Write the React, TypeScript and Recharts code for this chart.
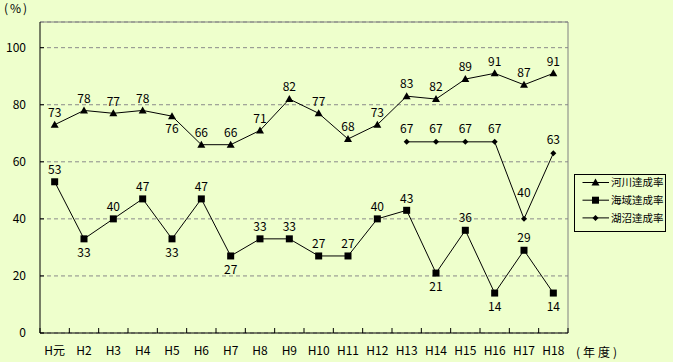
import { LineChart, Line, XAxis, YAxis, CartesianGrid, ReferenceLine, LabelList, Legend } from 'recharts';

const years = ['H元', 'H2', 'H3', 'H4', 'H5', 'H6', 'H7', 'H8', 'H9', 'H10', 'H11', 'H12', 'H13', 'H14', 'H15', 'H16', 'H17', 'H18'];
const river = [73, 78, 77, 78, 76, 66, 66, 71, 82, 77, 68, 73, 83, 82, 89, 91, 87, 91];
const sea = [53, 33, 40, 47, 33, 47, 27, 33, 33, 27, 27, 40, 43, 21, 36, 14, 29, 14];
const lake = [null, null, null, null, null, null, null, null, null, null, null, null, 67, 67, 67, 67, 40, 63];
const yTicks = [0, 20, 40, 60, 80, 100];
const yMax = 109;

// where each value label sits: u = above, d = below, U = well above
const riverPlace = 'uuuuduuuuuuuuuuuuu';
const seaPlace = 'uduududuuuuuududud';
const lakePlace = 'uuuuuuuuuuuuuuuuUu';

const series = [
  { key: 'river', name: '河川達成率', shape: 'triangle' },
  { key: 'sea', name: '海域達成率', shape: 'square' },
  { key: 'lake', name: '湖沼達成率', shape: 'diamond' },
];

const data = years.map((year, i) => ({ year, river: river[i], sea: sea[i], lake: lake[i] }));

const FONT = "'Noto Sans CJK JP', 'Noto Sans', sans-serif";

function marker(shape: string, cx: number, cy: number, key?: string | number) {
  if (shape === 'triangle') {
    return <path key={key} d={`M${cx},${cy - 4}L${cx + 4},${cy + 3}L${cx - 4},${cy + 3}Z`} fill="#000" />;
  }
  if (shape === 'square') {
    return <rect key={key} x={cx - 3.5} y={cy - 3.5} width={7} height={7} fill="#000" />;
  }
  return <path key={key} d={`M${cx},${cy - 3}L${cx + 3},${cy}L${cx},${cy + 3}L${cx - 3},${cy}Z`} fill="#000" />;
}

const makeDot = (shape: string) => (props: any) => {
  const { cx, cy, value, index } = props;
  if (value == null || cx == null || cy == null) return <g key={`e${index}`} />;
  return marker(shape, cx, cy, `d${index}`);
};

const makeLabel = (place: string, up: number, down: number) => (props: any) => {
  const { x, y, value, index } = props;
  if (value == null) return null;
  const p = place[index];
  const off = p === 'd' ? down : p === 'U' ? -26 : -up;
  return (
    <text key={`l${index}`} x={x} y={y + off} dy="0.35em" textAnchor="middle" fontSize={12} fill="#000" fontFamily={FONT}>
      {value}
    </text>
  );
};

function LegendBox() {
  return (
    <svg width={92} height={58} style={{ display: 'block' }}>
      <rect x={0.5} y={0.5} width={91} height={57} fill="none" stroke="#000" />
      {series.map((s, i) => {
        const cy = 8.5 + i * 17.7;
        return (
          <g key={s.key}>
            <line x1={8.5} x2={35} y1={cy} y2={cy} stroke="#000" />
            {marker(s.shape, 21.5, cy)}
            <text x={37} y={cy} dy="0.36em" fontSize={10.5} fill="#000" fontFamily={FONT}>
              {s.name}
            </text>
          </g>
        );
      })}
    </svg>
  );
}

export default function App() {
  return (
    <div style={{ position: 'relative', width: 673, height: 362, background: '#EEFFCC', fontFamily: FONT }}>
      <style>{'body{margin:0}'}</style>
      <div style={{ position: 'absolute', left: 4, top: 0, fontSize: 12, letterSpacing: 2, lineHeight: '16px' }}>(%)</div>
      <div style={{ position: 'absolute', left: 576, top: 344, fontSize: 12, letterSpacing: 3, lineHeight: '16px' }}>(年度)</div>
      <LineChart width={673} height={362} data={data} margin={{ top: 22, right: 105, bottom: 0, left: 0 }}>
        <CartesianGrid vertical={false} stroke="#8a8a8a" strokeDasharray="4 3" />
        <XAxis
          dataKey="year"
          scale="band"
          stroke="#000"
          tickLine={false}
          tickSize={0}
          tickMargin={13}
          height={29}
          interval={0}
          tick={{ fontSize: 12, fill: '#000', fontFamily: FONT }}
        />
        <YAxis
          domain={[0, yMax]}
          ticks={yTicks}
          allowDataOverflow
          width={40}
          tickSize={-4}
          tickMargin={18}
          stroke="#000"
          tick={{ fontSize: 12, fill: '#000', fontFamily: FONT }}
        />
        <ReferenceLine y={yMax} stroke="#808080" />
        <ReferenceLine x="H18" position="end" stroke="#808080" />
        {years.map((yr) => (
          <ReferenceLine
            key={`t${yr}`}
            position="start"
            segment={[{ x: yr, y: 0 }, { x: yr, y: 1.75 }]}
            stroke="#000"
          />
        ))}
        <ReferenceLine position="end" segment={[{ x: 'H18', y: 0 }, { x: 'H18', y: 1.75 }]} stroke="#000" />
        <Legend
          layout="horizontal"
          verticalAlign="middle"
          align="center"
          wrapperStyle={{ left: 574, top: 174, width: 92, height: 58 }}
          content={() => <LegendBox />}
        />
        <Line dataKey="river" name="河川達成率" stroke="#000" strokeWidth={1} dot={makeDot('triangle')} activeDot={false} isAnimationActive={false}>
          <LabelList dataKey="river" content={makeLabel(riverPlace, 12, 13)} />
        </Line>
        <Line dataKey="sea" name="海域達成率" stroke="#000" strokeWidth={1} dot={makeDot('square')} activeDot={false} isAnimationActive={false}>
          <LabelList dataKey="sea" content={makeLabel(seaPlace, 12, 14)} />
        </Line>
        <Line dataKey="lake" name="湖沼達成率" stroke="#000" strokeWidth={1} dot={makeDot('diamond')} activeDot={false} isAnimationActive={false}>
          <LabelList dataKey="lake" content={makeLabel(lakePlace, 13, 13)} />
        </Line>
      </LineChart>
    </div>
  );
}
